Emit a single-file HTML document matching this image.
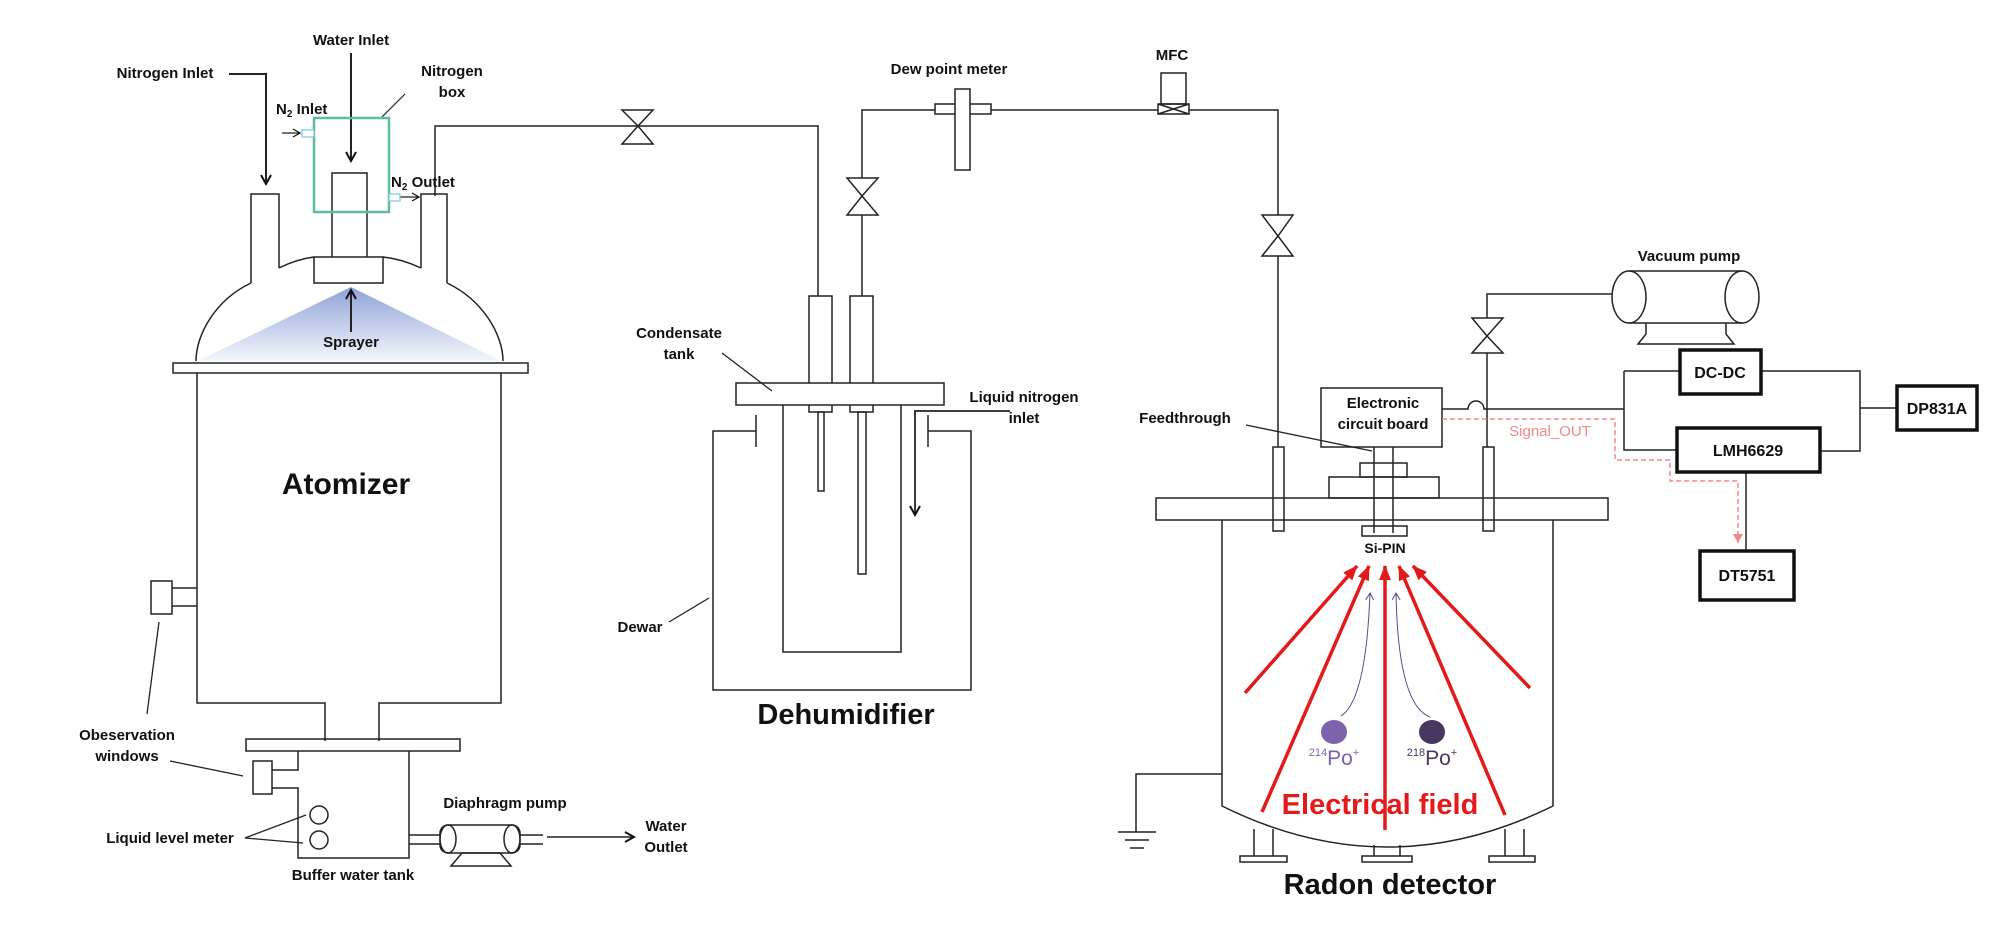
<!DOCTYPE html>
<html><head><meta charset="utf-8"><style>
html,body{margin:0;padding:0;background:#fff}
svg{display:block}
text{font-family:"Liberation Sans",sans-serif;font-weight:bold;fill:#111}
</style></head><body>
<svg width="2008" height="929" viewBox="0 0 2008 929" xmlns="http://www.w3.org/2000/svg">
<defs>
<linearGradient id="spr" x1="0" y1="0" x2="0" y2="1"><stop offset="0" stop-color="#8fa3d8"/><stop offset="1" stop-color="#f4f6fc"/></linearGradient>
<marker id="ah" markerWidth="12" markerHeight="12" refX="10" refY="6" orient="auto" markerUnits="userSpaceOnUse"><path d="M1,1 L10,6 L1,11" fill="none" stroke="#111" stroke-width="2"/></marker>
<marker id="ahs" markerWidth="10" markerHeight="10" refX="8" refY="5" orient="auto" markerUnits="userSpaceOnUse"><path d="M1,1 L8,5 L1,9" fill="none" stroke="#111" stroke-width="1.2"/></marker>
<marker id="red" markerWidth="16" markerHeight="16" refX="14" refY="8" orient="auto" markerUnits="userSpaceOnUse"><path d="M0,2 L15,8 L0,14 Z" fill="#e41a1a"/></marker>
<marker id="pur" markerWidth="10" markerHeight="10" refX="8" refY="5" orient="auto" markerUnits="userSpaceOnUse"><path d="M1,1 L8,5 L1,9" fill="none" stroke="#5a4a8a" stroke-width="1"/></marker>
<marker id="pink" markerWidth="10" markerHeight="10" refX="9" refY="5" orient="auto" markerUnits="userSpaceOnUse"><path d="M0,0 L9,5 L0,10 Z" fill="#f08a8a"/></marker>
</defs>
<g fill="none" stroke="#222" stroke-width="1.5">
<!-- spray cone -->
<path d="M351,287 L198,361 L501,361 Z" fill="url(#spr)" stroke="none"/>
<!-- necks -->
<path d="M251,283 L251,194 L279,194 L279,268"/>
<path d="M421,268 L421,194 L447,194 L447,283"/>
<path d="M332,257 L332,173 L367,173 L367,257"/>
<path d="M314,257 L314,283 L383,283 L383,257 Z"/>
<path d="M251,283 C215,300 196,335 196,361"/>
<path d="M447,283 C483,300 503,335 503,361"/>
<path d="M279,268 Q297,259 314,257"/>
<path d="M383,257 Q402,259 421,268"/>
<rect x="173" y="363" width="355" height="10"/>
<path d="M197,373 L197,703 L325,703 L325,741 M379,741 L379,703 L501,703 L501,373"/>
<!-- obs window -->
<rect x="151" y="581" width="21" height="33"/>
<path d="M172,588 L197,588 M172,606 L197,606"/>
<path d="M159,622 L147,714" stroke-width="1.3"/>
<!-- lower -->
<rect x="246" y="739" width="214" height="12"/>
<path d="M298,751 L298,770 L272,770 M272,788 L298,788 L298,858 L409,858 L409,751"/>
<rect x="253" y="761" width="19" height="33"/>
<circle cx="319" cy="815" r="9"/>
<circle cx="319" cy="840" r="9"/>
<path d="M170,761 L243,776 M245,838 L306,815 M245,838 L303,843" stroke-width="1.3"/>
<path d="M409,835 L440,835 M409,844 L440,844"/>
<rect x="440" y="825" width="80" height="28" rx="8"/>
<ellipse cx="448" cy="839" rx="8" ry="14"/><ellipse cx="512" cy="839" rx="8" ry="14"/>
<path d="M451,866 L511,866 L500,853 L462,853 Z"/>
<path d="M520,835 L543,835 M520,844 L543,844"/>
<path d="M547,837 L634,837" marker-end="url(#ah)"/>
<!-- arrows top -->
<path d="M229,74 L266,74 L266,184" stroke-width="2" marker-end="url(#ah)"/>
<path d="M351,53 L351,161" stroke-width="2" marker-end="url(#ah)"/>
<path d="M351,332 L351,290" stroke-width="2" marker-end="url(#ah)"/>
<path d="M282,133 L300,133" stroke-width="1.2" marker-end="url(#ahs)"/>
<path d="M400,197 L419,197" stroke-width="1.2" marker-end="url(#ahs)"/>
<path d="M405,94 L381,118" stroke-width="1.2"/>
<!-- pipe to dehumidifier -->
<path d="M435,196 L435,126 L818,126 L818,296"/>
<path d="M622,110 L653,110 L638,126 Z M622,144 L653,144 L638,126 Z" fill="#fff"/>
<rect x="809" y="296" width="23" height="116"/>
<rect x="818" y="412" width="6" height="79"/>
<rect x="850" y="296" width="23" height="116"/>
<rect x="858" y="412" width="8" height="162"/>
<path d="M862,296 L862,110 L935,110"/>
<path d="M847,178 L878,178 L862,196 Z M847,215 L878,215 L862,196 Z" fill="#fff"/>
<rect x="935" y="104" width="56" height="10" fill="#fff"/>
<rect x="955" y="89" width="15" height="81" fill="#fff"/>
<path d="M991,110 L1158,110 M1189,110 L1278,110 L1278,447"/>
<rect x="1161" y="73" width="25" height="31"/>
<rect x="1158" y="104" width="31" height="10"/>
<path d="M1158,104 L1189,114 M1158,114 L1189,104"/>
<rect x="736" y="383" width="208" height="22" fill="#fff"/>
<path d="M722,353 L772,391" stroke-width="1.3"/>
<path d="M783,405 L783,652 L901,652 L901,405"/>
<path d="M756,415 L756,447 M756,431 L713,431 L713,690 L971,690 L971,431 L928,431 M928,415 L928,447"/>
<path d="M1010,411 L915,411 L915,515" stroke-width="1.8" marker-end="url(#ah)"/>
<path d="M709,598 L669,622" stroke-width="1.3"/>
<!-- radon detector -->
<path d="M1262,215 L1293,215 L1278,236 Z M1262,256 L1293,256 L1278,236 Z" fill="#fff"/>
<rect x="1273" y="447" width="11" height="84"/>
<path d="M1612,294 L1487,294 L1487,447"/>
<path d="M1472,318 L1503,318 L1487,336 Z M1472,353 L1503,353 L1487,336 Z" fill="#fff"/>
<rect x="1483" y="447" width="11" height="84"/>
<path d="M1629,271 L1742,271 M1629,323 L1742,323"/>
<ellipse cx="1629" cy="297" rx="17" ry="26"/><ellipse cx="1742" cy="297" rx="17" ry="26"/>
<path d="M1646,323 L1646,334 L1638,344 L1734,344 L1726,334 L1726,323"/>
<rect x="1321" y="388" width="121" height="59"/>
<path d="M1246,425 L1372,451" stroke-width="1.3"/>
<path d="M1374,447 L1374,533 M1393,447 L1393,533"/>
<rect x="1360" y="463" width="47" height="14"/>
<rect x="1329" y="477" width="110" height="21"/>
<rect x="1156" y="498" width="452" height="22"/>
<rect x="1362" y="526" width="45" height="10"/>
<path d="M1222,520 L1222,806 Q1387,888 1553,806 L1553,520"/>
<path d="M1254,829 L1254,856 M1273,829 L1273,856 M1374,845 L1374,856 M1400,845 L1400,856 M1505,829 L1505,856 M1524,829 L1524,856"/>
<rect x="1240" y="856" width="47" height="6"/><rect x="1362" y="856" width="50" height="6"/><rect x="1489" y="856" width="46" height="6"/>
<path d="M1222,774 L1136,774 L1136,832 M1118,832 L1156,832 M1125,840 L1149,840 M1130,848 L1144,848"/>
<!-- circuit -->
<path d="M1442,409 L1468,409 A8,8 0 0 1 1484,409 L1624,409 M1624,371 L1624,450 L1677,450 M1624,371 L1680,371 M1761,371 L1860,371 L1860,451 L1820,451 M1860,408 L1897,408 M1746,472 L1746,551"/>
</g>
<rect x="314" y="118" width="75" height="94" fill="none" stroke="#5dbf95" stroke-width="2.5"/>
<rect x="302" y="130" width="12" height="7" fill="#fff" stroke="#7ec4e8" stroke-width="1.2"/>
<rect x="389" y="194" width="11" height="7" fill="#fff" stroke="#7ec4e8" stroke-width="1.2"/>
<g fill="#fff" stroke="#111" stroke-width="3.5">
<rect x="1680" y="350" width="81" height="44"/>
<rect x="1897" y="386" width="80" height="44"/>
<rect x="1677" y="428" width="143" height="44"/>
<rect x="1700" y="551" width="94" height="49"/>
</g>
<path d="M1442,419 L1615,419 L1615,460 L1670,460 L1670,481 L1738,481 L1738,543" fill="none" stroke="#f08a8a" stroke-width="1.5" stroke-dasharray="5,3" marker-end="url(#pink)"/>
<!-- red field -->
<g stroke="#e41a1a" stroke-width="3.5" fill="none">
<path d="M1245,693 L1357,566" marker-end="url(#red)"/>
<path d="M1262,812 L1369,566" marker-end="url(#red)"/>
<path d="M1385,830 L1385,566" marker-end="url(#red)"/>
<path d="M1505,815 L1399,566" marker-end="url(#red)"/>
<path d="M1530,688 L1413,566" marker-end="url(#red)"/>
</g>
<path d="M1341,716 Q1366,700 1370,593" fill="none" stroke="#5a4a8a" stroke-width="1" marker-end="url(#pur)"/>
<path d="M1430,717 Q1398,705 1396,593" fill="none" stroke="#5a4a8a" stroke-width="1" marker-end="url(#pur)"/>
<ellipse cx="1334" cy="732" rx="13" ry="12" fill="#7e62ab"/>
<ellipse cx="1432" cy="732" rx="13" ry="12" fill="#483760"/>
<text x="1334" y="765" text-anchor="middle" style="font-weight:normal;fill:#7e62ab;font-size:21px"><tspan font-size="11" dy="-9">214</tspan><tspan dy="9">Po</tspan><tspan font-size="11" dy="-9">+</tspan></text>
<text x="1432" y="765" text-anchor="middle" style="font-weight:normal;fill:#483760;font-size:21px"><tspan font-size="11" dy="-9">218</tspan><tspan dy="9">Po</tspan><tspan font-size="11" dy="-9">+</tspan></text>
<text x="1380" y="814" text-anchor="middle" style="fill:#e41a1a;font-size:29px">Electrical field</text>
<!-- labels -->
<g font-size="15">
<text x="165" y="78" text-anchor="middle">Nitrogen Inlet</text>
<text x="351" y="45" text-anchor="middle">Water Inlet</text>
<text x="452" y="76" text-anchor="middle">Nitrogen</text>
<text x="452" y="97" text-anchor="middle">box</text>
<text x="276" y="114">N<tspan font-size="10" dy="3">2</tspan><tspan dy="-3"> Inlet</tspan></text>
<text x="391" y="187">N<tspan font-size="10" dy="3">2</tspan><tspan dy="-3"> Outlet</tspan></text>
<text x="351" y="347" text-anchor="middle">Sprayer</text>
<text x="127" y="740" text-anchor="middle">Obeservation</text>
<text x="127" y="761" text-anchor="middle">windows</text>
<text x="170" y="843" text-anchor="middle">Liquid level meter</text>
<text x="353" y="880" text-anchor="middle">Buffer water tank</text>
<text x="505" y="808" text-anchor="middle">Diaphragm pump</text>
<text x="666" y="831" text-anchor="middle">Water</text>
<text x="666" y="852" text-anchor="middle">Outlet</text>
<text x="679" y="338" text-anchor="middle">Condensate</text>
<text x="679" y="359" text-anchor="middle">tank</text>
<text x="640" y="632" text-anchor="middle">Dewar</text>
<text x="1024" y="402" text-anchor="middle">Liquid nitrogen</text>
<text x="1024" y="423" text-anchor="middle">inlet</text>
<text x="949" y="74" text-anchor="middle">Dew point meter</text>
<text x="1172" y="60" text-anchor="middle">MFC</text>
<text x="1689" y="261" text-anchor="middle">Vacuum pump</text>
<text x="1185" y="423" text-anchor="middle">Feedthrough</text>
<text x="1383" y="408" text-anchor="middle">Electronic</text>
<text x="1383" y="429" text-anchor="middle">circuit board</text>
<text x="1385" y="553" text-anchor="middle" font-size="14">Si-PIN</text>
<text x="1550" y="436" text-anchor="middle" style="font-weight:normal;fill:#f08a8a">Signal_OUT</text>
<text x="1720" y="378" text-anchor="middle" font-size="16">DC-DC</text>
<text x="1937" y="414" text-anchor="middle" font-size="16">DP831A</text>
<text x="1748" y="456" text-anchor="middle" font-size="16">LMH6629</text>
<text x="1747" y="581" text-anchor="middle" font-size="16">DT5751</text>
</g>
<text x="346" y="494" text-anchor="middle" font-size="30">Atomizer</text>
<text x="846" y="724" text-anchor="middle" font-size="29">Dehumidifier</text>
<text x="1390" y="894" text-anchor="middle" font-size="29">Radon detector</text>
</svg>
</body></html>
